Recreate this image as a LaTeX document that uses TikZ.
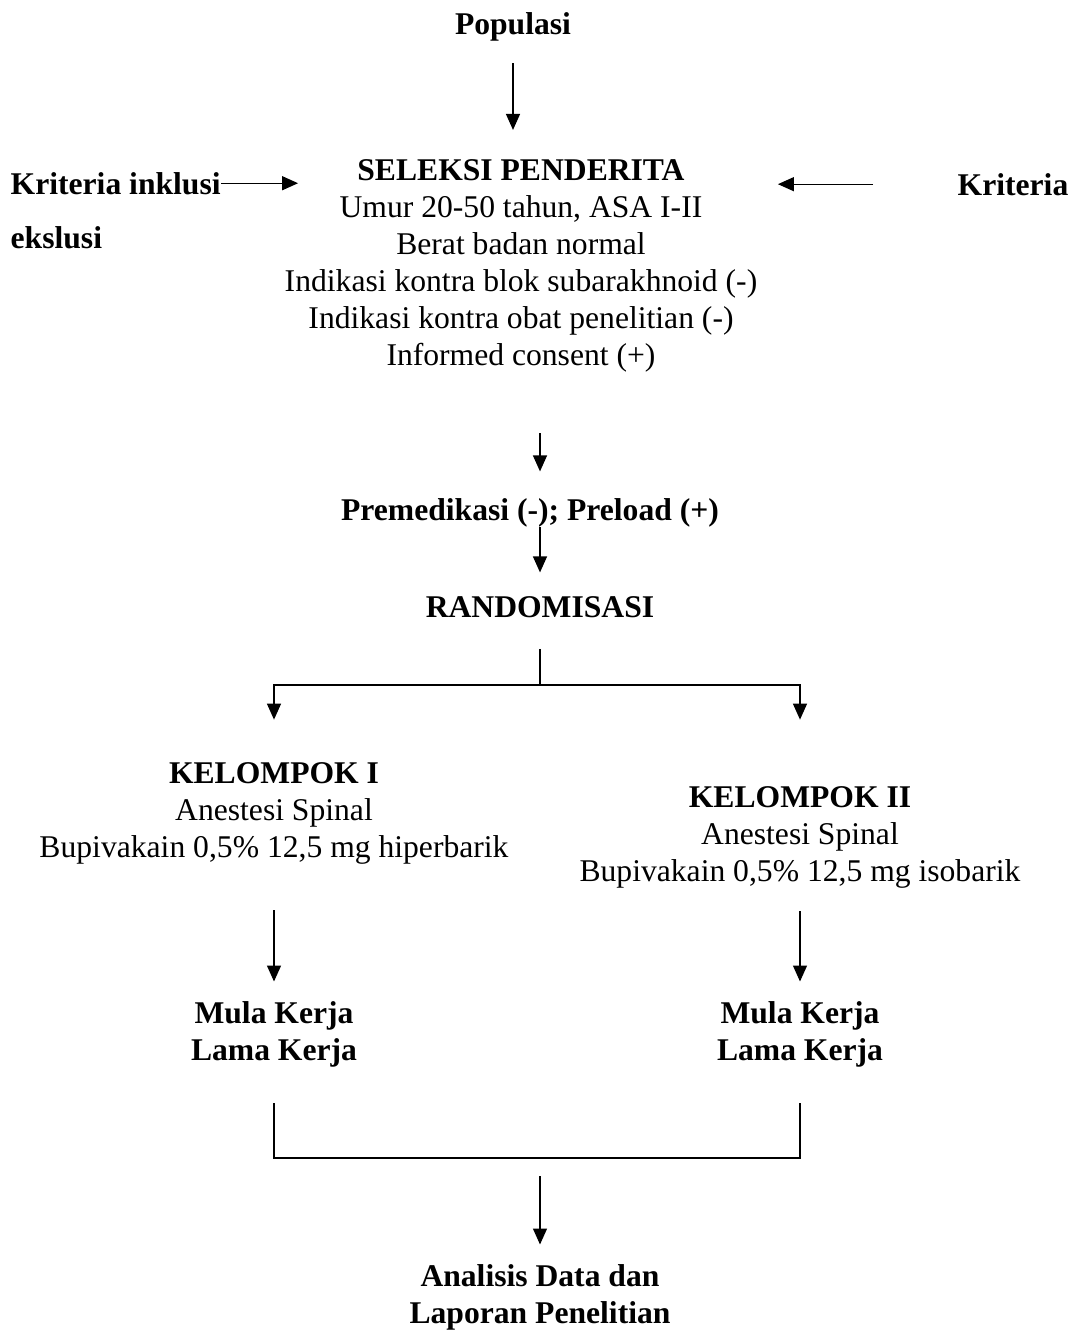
\documentclass[tikz,border=0pt]{standalone}
\usepackage{fontspec}
\setmainfont{Liberation Serif}
\usepackage{tikz}
\usetikzlibrary{arrows.meta}

\begin{document}
\begin{tikzpicture}[x=0.02cm, y=-0.02cm, line width=0.75pt,
                    txt/.style={inner sep=0pt, align=center, anchor=base,
                                font=\fontsize{18}{21}\selectfont},
                    hd/.style={txt, font=\fontsize{18}{21}\selectfont\bfseries},
                    arr/.style={-{Triangle[length=0.32cm, width=0.28cm]}}]
  \useasboundingbox (0,0) rectangle (1075,1332);

  \node[hd] (pop) at (513,34) {Populasi};
  \node[txt] (sel) at (521,365) {\textbf{SELEKSI PENDERITA}\\
    Umur 20-50 tahun, ASA I-II\\
    Berat badan normal\\
    Indikasi kontra blok subarakhnoid (-)\\
    Indikasi kontra obat penelitian (-)\\
    Informed consent (+)};
  \node[hd, anchor=base west] (ki) at (10,194) {Kriteria inklusi};
  \node[hd, anchor=base west] (eks) at (10,248) {ekslusi};
  \node[hd, anchor=base west] (kr) at (957,195) {Kriteria};
  \node[hd] (pre) at (530,520) {Premedikasi (-); Preload (+)};
  \node[hd] (rnd) at (540,617) {RANDOMISASI};
  \node[txt] (k1) at (274,857) {\textbf{KELOMPOK I}\\
    Anestesi Spinal\\
    Bupivakain 0,5\% 12,5 mg hiperbarik};
  \node[txt] (k2) at (800,881) {\textbf{KELOMPOK II}\\
    Anestesi Spinal\\
    Bupivakain 0,5\% 12,5 mg isobarik};
  \node[hd] (m1) at (274,1060) {Mula Kerja\\ Lama Kerja};
  \node[hd] (m2) at (800,1060) {Mula Kerja\\ Lama Kerja};
  \node[hd] (an) at (540,1323) {Analisis Data dan\\ Laporan Penelitian};

  \coordinate (split) at (540,685);
  \coordinate (join) at (540,1158);

  \draw[arr, shorten <=0.44cm, shorten >=0.58cm] (pop.south) -- (pop.south |- sel.north);
  \draw[arr, shorten >=-0.28cm] (ki.east) -- (ki.east -| sel.west);
  \draw[arr, shorten <=1.68cm, shorten >=0.4cm] (kr.west) -- (kr.west -| sel.east);
  \draw[arr, shorten <=1.22cm, shorten >=0.52cm] (sel.south -| rnd) -- (pre.north -| rnd);
  \draw[arr, shorten >=0.46cm] (pre.south -| rnd) -- (rnd.north);
  \draw[shorten <=0.62cm] (rnd.south) -- (split);
  \draw[arr, shorten >=0.84cm] (split) -| (k1.north);
  \draw[arr, shorten >=1.32cm] (split) -| (k2.north);
  \draw[arr, shorten <=0.92cm, shorten >=0.38cm] (k1.south) -- (m1.north);
  \draw[arr, shorten <=0.46cm, shorten >=0.38cm] (k2.south) -- (m2.north);
  \draw[shorten <=0.72cm, shorten >=0.72cm] (m1.south) -- (m1.south |- join)
    -- (m2.south |- join) -- (m2.south);
  \draw[arr, shorten <=0.36cm, shorten >=0.38cm] (join) -- (an.north);
\end{tikzpicture}
\end{document}
